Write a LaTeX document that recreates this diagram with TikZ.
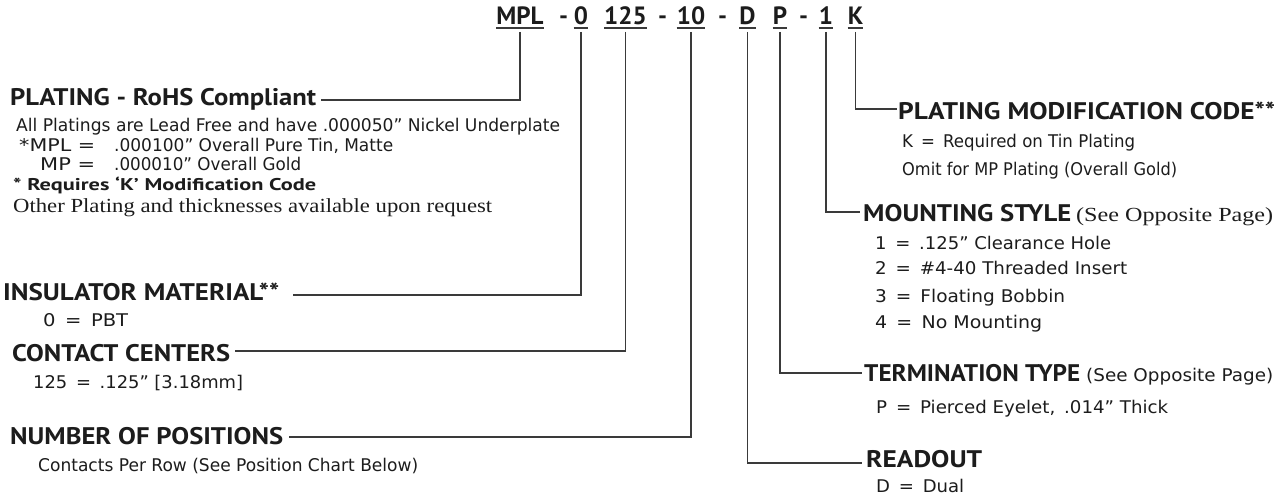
\documentclass[tikz,border=0pt]{standalone}
\usepackage{fontspec}
\usepackage{graphicx}
\setmainfont{Liberation Serif}
\newfontfamily\hdfont{PT Sans}
\newfontfamily\bdfont{DejaVu Sans}
\newcommand\fitw[2]{\resizebox{#1pt}{\height}{#2}}
\definecolor{ink}{HTML}{1C1C1C}
\definecolor{wire}{HTML}{3A3A3A}
\tikzset{
  code/.style={anchor=base, inner sep=0pt, font=\hdfont\bfseries\fontsize{25}{25}\selectfont, text=ink},
  hd/.style={anchor=base west, inner sep=0pt, font=\hdfont\bfseries\fontsize{24}{24}\selectfont, text=ink},
  hdsmall/.style={anchor=base west, inner sep=0pt, font=\hdfont\bfseries\fontsize{17}{17}\selectfont, text=ink},
  bd/.style={anchor=base west, inner sep=0pt, font=\bdfont\fontsize{17.5}{17.5}\selectfont, text=ink},
  sf/.style={anchor=base west, inner sep=0pt, font=\rmfamily\fontsize{20}{20}\selectfont, text=ink},
  uline/.style={line width=1.6pt, draw=wire},
  conn/.style={line width=1.3pt, draw=wire},
}
\begin{document}
\begin{tikzpicture}[x=1pt,y=-1pt]
\useasboundingbox (0,0) rectangle (1282,497);
% ---- part number code ----
\node[code] (tMPL) at (520,25) {MPL};
\node[code] (d1) at (563.5,25) {-};
\node[code] (t0) at (581,25) {0};
\node[code] (t125) at (625.5,25) {125};
\node[code] (d2) at (662.5,25) {-};
\node[code] (t10) at (691,25) {10};
\node[code] (d3) at (722.5,25) {-};
\node[code] (tD) at (747.5,25) {D};
\node[code] (tP) at (780,25) {P};
\node[code] (d4) at (803.5,25) {-};
\node[code] (t1) at (826,25) {1};
\node[code] (tK) at (855.5,25) {K};
\foreach \t in {tMPL,t0,t125,t10,tD,tP,t1,tK}{
  \draw[uline] ([yshift=-3pt]\t.base west) -- ([yshift=-3pt]\t.base east);
}
% ---- left column ----
\node[hd] (hPlat) at (10,106) {\fitw{306}{PLATING - RoHS Compliant}};
\node[bd] (bAll) at (16,132) {\fitw{544}{All Platings are Lead Free and have .000050” Nickel Underplate}};
\node[bd] (bMPLk) at (19,152) {\fitw{76}{*MPL =}};
\node[bd] (bMPLv) at (114,152) {\fitw{279}{.000100” Overall Pure Tin, Matte}};
\node[bd] (bMPk) at (40,171) {\fitw{55}{MP =}};
\node[bd] (bMPv) at (114,171) {\fitw{187}{.000010” Overall Gold}};
\node[hdsmall] (bReq) at (13,191) {\fitw{303}{* Requires ‘K’ Modification Code}};
\node[sf] (bOther) at (13,213) {\fitw{479}{Other Plating and thicknesses available upon request}};

\node[hd] (hIns) at (3,300) {\fitw{276}{INSULATOR MATERIAL**}};
\node[bd] (bIns) at (43,326) {\fitw{85}{0 \,=\, PBT}};

\node[hd] (hCon) at (12,361) {\fitw{218}{CONTACT CENTERS}};
\node[bd] (bCon) at (33,388) {\fitw{210}{125 \,=\, .125” [3.18mm]}};

\node[hd] (hNum) at (10,444) {\fitw{273}{NUMBER OF POSITIONS}};
\node[bd] (bNum) at (38,471) {\fitw{380}{Contacts Per Row (See Position Chart Below)}};

% ---- right column ----
\node[hd] (hPMC) at (898,120) {\fitw{377}{PLATING MODIFICATION CODE**}};
\node[bd] (bK) at (902,148) {\fitw{233}{K \,=\, Required on Tin Plating}};
\node[bd] (bOmit) at (902,176) {\fitw{275}{Omit for MP Plating (Overall Gold)}};

\node[hd] (hMnt) at (863,222) {\fitw{208}{MOUNTING STYLE}};
\node[sf] (hMntS) at (1076,222) {\fitw{197}{(See Opposite Page)}};
\node[bd] (bM1) at (875,249) {\fitw{236}{1 \,=\, .125” Clearance Hole}};
\node[bd] (bM2) at (875,274) {\fitw{252}{2 \,=\, \#4-40 Threaded Insert}};
\node[bd] (bM3) at (875,302) {\fitw{190}{3 \,=\, Floating Bobbin}};
\node[bd] (bM4) at (875,328) {\fitw{167}{4 \,=\, No Mounting}};

\node[hd] (hTerm) at (864,381) {\fitw{216}{TERMINATION TYPE}};
\node[bd] (hTermS) at (1086,381) {\fitw{187}{(See Opposite Page)}};
\node[bd] (bP) at (876,413) {\fitw{292}{P \,=\, Pierced Eyelet,\, .014” Thick}};

\node[hd] (hRead) at (866,467) {\fitw{116}{READOUT}};
\node[bd] (bD) at (876,492) {\fitw{88}{D \,=\, Dual}};

% ---- connectors ----
\draw[conn] ([yshift=-7pt]tMPL.base) |- ([xshift=5pt,yshift=6pt]hPlat.base east);
\draw[conn] ([yshift=-7pt]t0.base) |- ([xshift=14pt,yshift=5pt]hIns.base east);
\draw[conn] ([yshift=-7pt]t125.base) |- ([xshift=5pt,yshift=10pt]hCon.base east);
\draw[conn] ([yshift=-7pt]t10.base) |- ([xshift=6pt,yshift=7pt]hNum.base east);
\draw[conn] ([yshift=-7pt]tK.base) |- ([xshift=-1pt,yshift=11pt]hPMC.base west);
\draw[conn] ([yshift=-7pt]t1.base) |- ([xshift=-3pt,yshift=10pt]hMnt.base west);
\draw[conn] ([yshift=-7pt]tP.base) |- ([xshift=-2pt,yshift=8pt]hTerm.base west);
\draw[conn] ([yshift=-7pt]tD.base) |- ([xshift=-4pt,yshift=4pt]hRead.base west);
\end{tikzpicture}
\end{document}
